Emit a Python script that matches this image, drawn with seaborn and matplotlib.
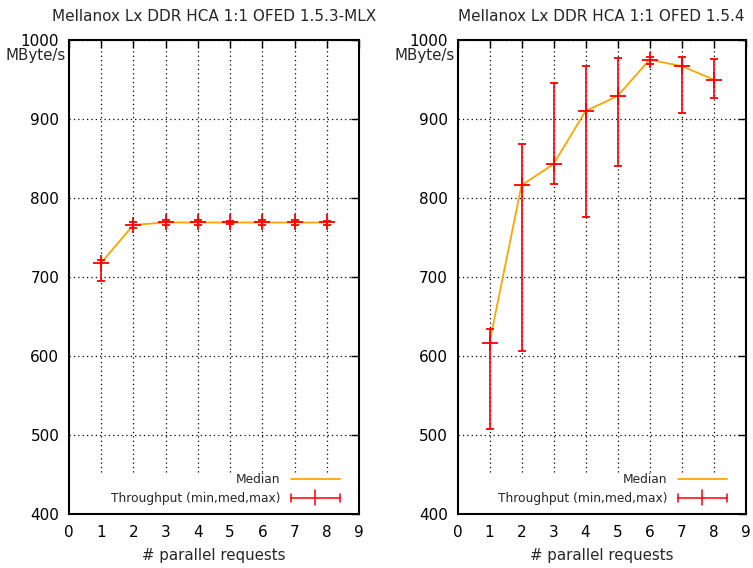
import matplotlib
matplotlib.use('Agg')
import matplotlib.pyplot as plt
from matplotlib.lines import Line2D
from matplotlib.legend_handler import HandlerBase
from matplotlib.container import ErrorbarContainer
import seaborn as sns
import pandas as pd

# data
requests_n = [1, 2, 3, 4, 5, 6, 7, 8]

mlx_med = [718, 766, 769, 769, 769, 769, 769, 769]
mlx_min = [695, 762, 766, 766, 767, 766, 766, 766]
mlx_max = [722, 770, 772, 772, 771, 772, 772, 771]

ofed_med = [617, 816, 843, 910, 929, 975, 967, 950]
ofed_min = [508, 606, 818, 776, 840, 969, 908, 927]
ofed_max = [634, 868, 945, 967, 977, 978, 978, 976]

titles = ['Mellanox Lx DDR HCA 1:1 OFED 1.5.3-MLX',
          'Mellanox Lx DDR HCA 1:1 OFED 1.5.4']
y_ticks = [400, 500, 600, 700, 800, 900, 1000]
x_ticks = [0, 1, 2, 3, 4, 5, 6, 7, 8, 9]

sns.set_style('white')
plt.rcParams['font.family'] = ['DejaVu Sans']


# gnuplot style key sample for the errorbars: line with end caps and a mid tick
class HandlerErr(HandlerBase):
    def create_artists(self, legend, orig_handle, xdescent, ydescent,
                       width, height, fontsize, trans):
        y = height / 2 - ydescent
        x0, x1 = -xdescent, width - xdescent
        xm = (x0 + x1) / 2
        kw = dict(color='red', lw=1.1, transform=trans)
        return [Line2D([x0, x1], [y, y], **kw),
                Line2D([x0, x0], [y - 3, y + 3], **kw),
                Line2D([x1, x1], [y - 3, y + 3], **kw),
                Line2D([xm, xm], [y - 5.5, y + 5.5], **kw)]


fig = plt.figure(figsize=(7.53, 5.68), dpi=100)
ax1 = fig.add_axes([69 / 753, 54 / 568, 290 / 753, 474 / 568])
ax2 = fig.add_axes([457.5 / 753, 54 / 568, 288 / 753, 474 / 568])

series = [(mlx_med, mlx_min, mlx_max), (ofed_med, ofed_min, ofed_max)]

for ax, title, (med, lo, hi) in zip([ax1, ax2], titles, series):
    df = pd.DataFrame({'n': requests_n, 'med': med, 'lo': lo, 'hi': hi})

    # grid: horizontal full width, vertical lines stop above the key
    ax.grid(axis='y', color='black', linestyle=(0, (1, 2.5)), linewidth=0.9)
    ax.vlines(x_ticks[1:-1], 453, 1000, colors='black',
              linestyles=[(0, (1, 2.5))], linewidth=0.9, zorder=1)

    sns.lineplot(data=df, x='n', y='med', color='orange', linewidth=1.3,
                 ax=ax, zorder=2, label='Median')
    ax.errorbar(df['n'], df['med'],
                yerr=[df['med'] - df['lo'], df['hi'] - df['med']],
                fmt='+', color='red', ecolor='red', elinewidth=1.2,
                capsize=3, capthick=1.2, markersize=12,
                markeredgewidth=1.3, zorder=3,
                label='Throughput (min,med,max)')

    ax.set_xlim(0, 9)
    ax.set_ylim(400, 1000)
    ax.set_xticks(x_ticks)
    ax.set_yticks(y_ticks)
    ax.tick_params(direction='in', length=6, width=1, top=True, right=True,
                   labelsize=11, colors='black')
    ax.tick_params(axis='x', pad=8)
    ax.tick_params(axis='y', pad=7)
    for s in ax.spines.values():
        s.set_visible(True)
        s.set_color('black')
        s.set_linewidth(1.5)

    ax.set_title(title, fontsize=11, pad=14)
    ax.set_xlabel('# parallel requests', fontsize=10.8, labelpad=6)
    ax.set_ylabel('')
    ax.text(-0.01, 0.968, 'MByte/s', transform=ax.transAxes, ha='right',
            va='center', fontsize=10.8)

    h, l = ax.get_legend_handles_labels()
    ax.legend(h, l, loc='lower right', bbox_to_anchor=(1 - 19 / 288, 9 / 474),
              frameon=False, markerfirst=False, fontsize=8.8, handlelength=4,
              handletextpad=0.85, labelspacing=0.5, borderpad=0,
              borderaxespad=0, handler_map={ErrorbarContainer: HandlerErr()})

fig.savefig('out.png', dpi=100)
